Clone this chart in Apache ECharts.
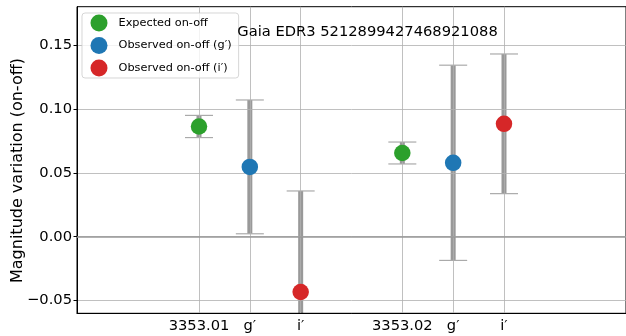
<!DOCTYPE html>
<html>
<head>
<meta charset="utf-8">
<script src="https://cdn.jsdelivr.net/npm/echarts@6/dist/echarts.min.js"></script>
<style>html,body{margin:0;padding:0;background:#fff}#c{width:626px;height:336px}</style>
</head>
<body>
<div id="c"></div>
<script>
const titleText = 'Gaia EDR3 5212899427468921088';
const groups = ['3353.01', '3353.02'];
const bands = ['g′', 'i′'];
const expectedVal = [0.0865, 0.0657];
const expectedErr = [0.0087, 0.0086];
const obsGVal = [0.0548, 0.0580];
const obsGErr = [0.0525, 0.0766];
const obsIVal = [-0.0434, 0.0886];
const obsIErr = [0.0793, 0.0548];
const yTicks = [-0.05, 0, 0.05, 0.10, 0.15];
const seriesNames = ['Expected on-off', 'Observed on-off (g′)', 'Observed on-off (i′)'];
const colors = ['#2ca02c', '#1f77b4', '#d62728'];

const FONT = 'DejaVu Sans';
const groupStep = bands.length + 2;
const tickPos = [], tickLab = [];
groups.forEach((g, k) => {
  tickPos.push(k * groupStep); tickLab.push(g);
  bands.forEach((b, j) => { tickPos.push(k * groupStep + j + 1); tickLab.push(b); });
});
const vals = [expectedVal, obsGVal, obsIVal];
const errs = [expectedErr, obsGErr, obsIErr];
const pointData = vals.map((arr, s) => arr.map((v, k) => [k * groupStep + s, v]));
const errData = [];
vals.forEach((arr, s) => arr.forEach((v, k) => {
  errData.push([k * groupStep + s, v - errs[s][k], v + errs[s][k]]);
}));

const chart = echarts.init(document.getElementById('c'), null, {renderer: 'canvas'});
const option = {
  animation: false,
  backgroundColor: '#fff',
  textStyle: {fontFamily: FONT},
  grid: {left: 77, top: 6.7, width: 550.8, height: 306.6, show: true,
    borderColor: '#000', borderWidth: 1, backgroundColor: 'transparent'},
  xAxis: {
    type: 'value', min: -2.4, max: 8.4,
    axisLine: {show: true, onZero: false, lineStyle: {color: '#000', width: 1}},
    axisTick: {show: false, customValues: tickPos},
    axisLabel: {customValues: tickPos, margin: 5, color: '#000', fontFamily: FONT, fontSize: 14.7,
      formatter: v => { const i = tickPos.indexOf(v); return i >= 0 ? tickLab[i] : ''; }},
    splitLine: {show: true, lineStyle: {color: '#b0b0b0', width: 0.8}}
  },
  yAxis: {
    type: 'value', min: -0.0601, max: 0.1805,
    axisLine: {show: true, onZero: false, lineStyle: {color: '#000', width: 1}},
    axisTick: {show: true, customValues: yTicks, length: 3.5, lineStyle: {color: '#000', width: 1}},
    axisLabel: {customValues: yTicks, margin: 5, color: '#000', fontFamily: FONT, fontSize: 14.7,
      formatter: v => v.toFixed(2).replace('-', '\u2212')},
    splitLine: {show: true, lineStyle: {color: '#b0b0b0', width: 0.8}}
  },
  legend: {
    orient: 'vertical', left: 82, top: 13,
    padding: [1.5, 7, 1.5, 8.5], itemGap: 5.5,
    itemWidth: 17, itemHeight: 17, icon: 'circle',
    backgroundColor: 'rgba(255,255,255,0.8)',
    borderColor: 'rgba(204,204,204,0.8)', borderWidth: 1, borderRadius: 3,
    textStyle: {fontFamily: FONT, fontSize: 11.3, color: '#000', padding: [0, 0, 0, 6]},
    data: seriesNames
  },
  graphic: [
    {type: 'text', x: 367.5, y: 32, z: 100,
      style: {text: titleText, font: '14.7px "DejaVu Sans"', fill: '#000', textAlign: 'center', textVerticalAlign: 'middle'}},
    {type: 'text', x: 17.5, y: 170.5, rotation: Math.PI / 2, z: 100,
      style: {text: 'Magnitude variation (on-off)', font: '16px "DejaVu Sans"', fill: '#000', textAlign: 'center', textVerticalAlign: 'middle'}}
  ],
  series: [
    {
      type: 'custom', name: 'errors', z: -1, silent: true,
      data: errData,
      encode: {x: 0, y: [1, 2]},
      renderItem: function (params, api) {
        const x = api.value(0), lo = api.value(1), hi = api.value(2);
        const pLo = api.coord([x, lo]), pHi = api.coord([x, hi]);
        const cs = params.coordSys;
        const top = Math.max(pHi[1], cs.y), bot = Math.min(pLo[1], cs.y + cs.height);
        const children = [{type: 'line', shape: {x1: pLo[0], y1: top, x2: pLo[0], y2: bot},
          style: {stroke: '#999999', lineWidth: 5}}];
        [pHi[1], pLo[1]].forEach(yy => {
          if (yy >= cs.y && yy <= cs.y + cs.height) {
            children.push({type: 'line', shape: {x1: pLo[0] - 14, y1: yy, x2: pLo[0] + 14, y2: yy},
              style: {stroke: '#aaaaaa', lineWidth: 1.2}});
          }
        });
        return {type: 'group', children: children};
      }
    },
    ...seriesNames.map((n, s) => ({
      type: 'scatter', name: n, data: pointData[s], symbol: 'circle', symbolSize: 16.5,
      itemStyle: {color: colors[s], opacity: 1}, z: 3,
      markLine: s === 0 ? {silent: true, symbol: ['none', 'none'], label: {show: false},
        lineStyle: {color: '#999999', width: 1.6, type: 'solid'}, data: [{yAxis: 0}]} : undefined
    }))
  ]
};
chart.setOption(option);
</script>
</body>
</html>
